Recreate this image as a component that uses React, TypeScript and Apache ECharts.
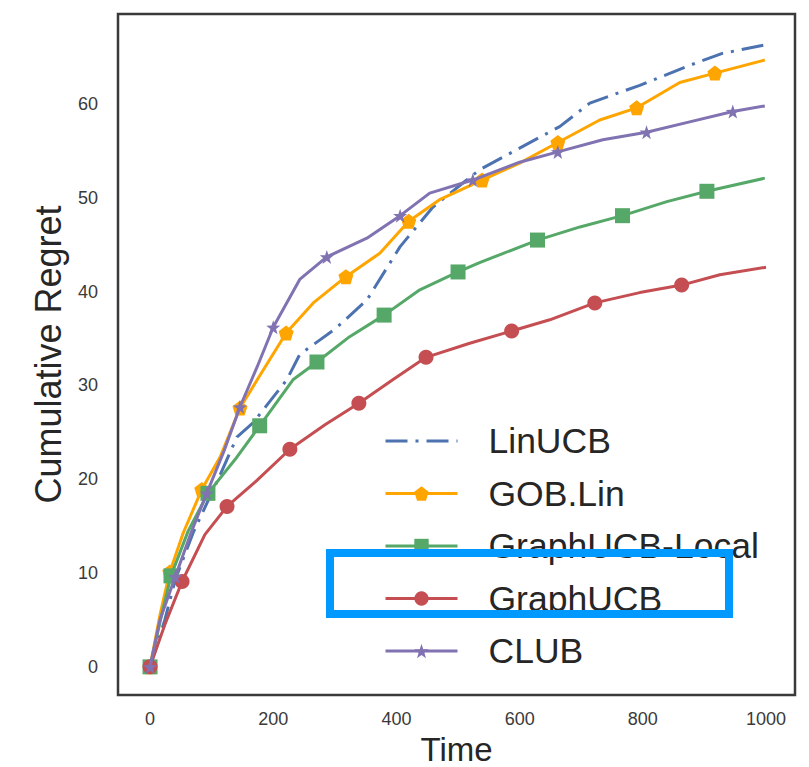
import React, { useEffect, useRef } from "react";
import * as echarts from "echarts";

// ---- data ----
const seriesNames = ["LinUCB", "GOB.Lin", "GraphUCB-Local", "GraphUCB", "CLUB"];

const linT = [0, 24, 41, 70, 114, 141, 167, 222, 243, 300, 352, 406, 459, 514, 535, 600, 665, 714, 795, 887, 929, 998];
const linR = [0, 5.0, 9.3, 14.3, 20.5, 24.5, 26.0, 30.6, 33.3, 36.0, 39.1, 44.8, 49.0, 51.9, 53.0, 55.3, 57.6, 60.1, 62.0, 64.4, 65.4, 66.3];

const gobT = [0, 16, 32, 54, 84, 114, 146, 174, 221, 265, 318, 373, 420, 470, 539, 600, 662, 730, 790, 860, 917, 998];
const gobR = [0, 5.5, 10.1, 14.3, 18.9, 22.4, 27.6, 30.6, 35.6, 38.8, 41.6, 44.1, 47.5, 49.8, 51.9, 53.7, 55.9, 58.3, 59.6, 62.3, 63.3, 64.7];
const gobMark = [1, 0, 1, 0, 1, 0, 1, 0, 1, 0, 1, 0, 1, 0, 1, 0, 1, 0, 1, 0, 1, 0];

const locT = [0, 17, 34, 62, 94, 138, 178, 232, 271, 324, 380, 438, 500, 535, 629, 698, 767, 839, 904, 998];
const locR = [0, 5.0, 9.7, 14.5, 18.5, 22.1, 25.7, 30.6, 32.5, 35.2, 37.5, 40.2, 42.1, 43.1, 45.5, 46.9, 48.1, 49.6, 50.7, 52.1];
const locMark = [1, 0, 1, 0, 1, 0, 1, 0, 1, 0, 1, 0, 1, 0, 1, 0, 1, 0, 1, 0];

const gucbT = [0, 24, 52, 89, 125, 174, 227, 284, 339, 394, 448, 519, 587, 649, 722, 795, 863, 925, 1000];
const gucbR = [0, 4.5, 9.1, 14.1, 17.1, 19.9, 23.2, 25.8, 28.1, 30.6, 33.0, 34.5, 35.8, 37.0, 38.8, 39.9, 40.7, 41.8, 42.6];
const gucbMark = [1, 0, 1, 0, 1, 0, 1, 0, 1, 0, 1, 0, 1, 0, 1, 0, 1, 0, 0];

const clubT = [0, 16, 41, 66, 92, 120, 146, 174, 200, 243, 287, 352, 406, 454, 524, 600, 662, 735, 806, 876, 946, 998];
const clubR = [0, 5.0, 9.6, 14.2, 18.5, 23.0, 27.7, 32.0, 36.2, 41.3, 43.7, 45.7, 48.1, 50.5, 51.9, 53.8, 54.9, 56.2, 57.0, 58.1, 59.2, 59.8];
const clubMark = [1, 0, 1, 0, 1, 0, 1, 0, 1, 0, 1, 0, 1, 0, 1, 0, 1, 0, 1, 0, 1, 0];

const xTicks = [0, 200, 400, 600, 800, 1000];
const yTicks = [0, 10, 20, 30, 40, 50, 60];

const colors = ["#4C72B0", "#FFA500", "#55A868", "#C44E52", "#8172B2"];

const PENTAGON = "path://M0,-10 L9.51,-3.09 L5.88,8.09 L-5.88,8.09 L-9.51,-3.09 Z";
const STAR =
  "path://M0,-10 L2.35,-3.24 L9.51,-3.09 L3.8,1.24 L5.88,8.09 L0,4 L-5.88,8.09 L-3.8,1.24 L-9.51,-3.09 L-2.35,-3.24 Z";

function build(t: number[], r: number[], mark?: number[]) {
  return t.map((x, i) =>
    mark && mark[i] ? { value: [x, r[i]] } : { value: [x, r[i]], symbol: "none" }
  );
}

const FONT = "Liberation Sans, Arial, sans-serif";

export default function App() {
  const ref = useRef<HTMLDivElement>(null);
  useEffect(() => {
    if (!ref.current) return;
    const chart = echarts.init(ref.current, undefined, { renderer: "svg" });
    const lineBase = (i: number) => ({
      name: seriesNames[i],
      type: "line",
      color: colors[i],
      lineStyle: { width: 3, color: colors[i] },
      itemStyle: { color: colors[i] },
      showAllSymbol: true,
      emphasis: { disabled: true },
      z: 2 + i,
    });
    chart.setOption({
      animation: false,
      backgroundColor: "#ffffff",
      grid: {
        left: 118,
        top: 14,
        width: 677,
        height: 681,
        outerBoundsMode: "none",
        containLabel: false,
        show: true,
        borderColor: "#3a3a3a",
        borderWidth: 2.5,
        backgroundColor: "transparent",
      },
      xAxis: {
        type: "value",
        min: -52,
        max: 1047,
        name: "Time",
        nameLocation: "middle",
        nameGap: 36,
        nameTextStyle: { fontSize: 33, lineHeight: 26, color: "#262626", fontFamily: FONT },
        axisLine: { show: false },
        axisTick: { show: false },
        splitLine: { show: false },
        axisLabel: {
          customValues: xTicks,
          formatter: (v: number) => String(v),
          fontSize: 18,
          color: "#3a3a3a",
          fontFamily: FONT,
          margin: 15,
        },
      },
      yAxis: {
        type: "value",
        min: -3.0,
        max: 69.6,
        name: "Cumulative Regret",
        nameLocation: "middle",
        nameGap: 52,
        nameTextStyle: { fontSize: 36, color: "#262626", fontFamily: FONT },
        axisLine: { show: false },
        axisTick: { show: false },
        splitLine: { show: false },
        axisLabel: {
          customValues: yTicks,
          formatter: (v: number) => String(v),
          fontSize: 18,
          color: "#3a3a3a",
          fontFamily: FONT,
          margin: 20,
        },
      },
      legend: {
        orient: "vertical",
        left: 384,
        top: 423,
        padding: 0,
        itemWidth: 72,
        itemHeight: 18,
        itemGap: 16.5,
        lineStyle: { width: 3 },
        data: [
          { name: seriesNames[0], itemStyle: { opacity: 0 } },
          seriesNames[1],
          seriesNames[2],
          seriesNames[3],
          seriesNames[4],
        ],
        textStyle: {
          fontSize: 35.5,
          lineHeight: 34,
          color: "#262626",
          fontFamily: FONT,
          padding: [0, 0, 0, 26],
        },
      },
      series: [
        {
          ...lineBase(0),
          symbol: "none",
          lineStyle: { width: 3, color: colors[0], type: [22, 8, 3, 8] },
          data: build(linT, linR),
        },
        { ...lineBase(1), symbol: PENTAGON, symbolSize: 15, data: build(gobT, gobR, gobMark) },
        { ...lineBase(2), symbol: "rect", symbolSize: 15, data: build(locT, locR, locMark) },
        { ...lineBase(3), symbol: "circle", symbolSize: 15, data: build(gucbT, gucbR, gucbMark) },
        { ...lineBase(4), symbol: STAR, symbolSize: 14, data: build(clubT, clubR, clubMark) },
      ],
      graphic: [
        {
          type: "rect",
          shape: { x: 330, y: 553, width: 399, height: 61 },
          style: { fill: "none", stroke: "#0099ff", lineWidth: 8 },
          z: 100,
        },
      ],
    });
    return () => chart.dispose();
  }, []);
  return (
    <div
      ref={ref}
      style={{ position: "fixed", left: 0, top: 0, width: 809, height: 767 }}
    />
  );
}
